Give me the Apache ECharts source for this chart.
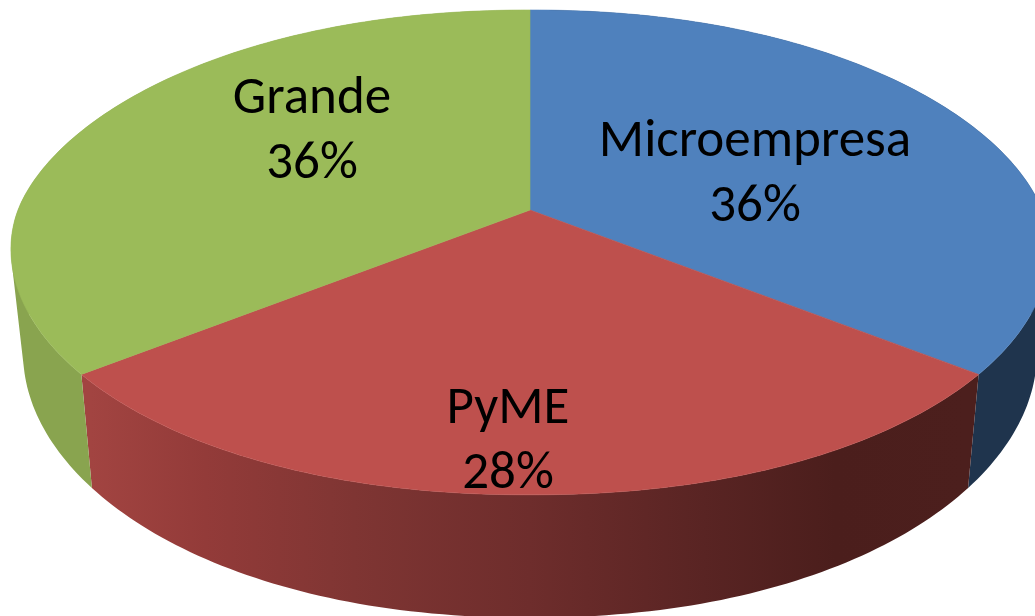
<!DOCTYPE html>
<html>
<head>
<meta charset="utf-8">
<style>html,body{margin:0;padding:0;background:#fff}#c{width:1035px;height:616px}</style>
<script src="https://cdn.jsdelivr.net/npm/echarts@6/dist/echarts.min.js"></script>
</head>
<body>
<div id="c"></div>
<script>
// Data
const categories = ['Microempresa', 'PyME', 'Grande'];
const shares = [36, 28, 36];

// Styles
const topColors = ['#4F81BD', '#BE504D', '#9BBB59'];
const sideFills = [
  '#1F344D',
  { type: 'linear', x: 91, y: 0, x2: 967, y2: 0, global: true, colorStops: [
    { offset: 0, color: '#A24441' },
    { offset: 0.13, color: '#933B39' },
    { offset: 0.3, color: '#7F3533' },
    { offset: 0.5, color: '#6E2D2C' },
    { offset: 0.7, color: '#592423' },
    { offset: 0.85, color: '#4B1E1C' },
    { offset: 1, color: '#4C1F1D' }
  ] },
  '#89A44F'
];
const labelAnchors = [[755, 175], [508, 442], [312, 132]];
const labelFont = { size: 53, lineHeight: 65, family: 'Carlito, Lato, sans-serif' };

// Perspective projection of the disc (faces share a horizontal centre)
const centreX = 530;
const topFace = { r: 512, b: 235, y: 210, k: 0.175 };
const bottomFace = { r: 500, b: 253, y: 311, k: 0.175 };
const bulgeU = 0.95, bulgeV = 1.05;

function project(face, deg) {
  const a = deg * Math.PI / 180;
  const su = Math.sin(a), sv = -Math.cos(a);
  const u = Math.sign(su) * Math.pow(Math.abs(su), bulgeU);
  const v = Math.sign(sv) * Math.pow(Math.abs(sv), bulgeV);
  const w = 1 - face.k * v;
  return [centreX + face.r * u / w, face.y + face.b * v / w];
}
function arc(face, from, to) {
  const n = Math.max(2, Math.ceil(to - from));
  const pts = [];
  for (let i = 0; i <= n; i++) pts.push(project(face, from + (to - from) * i / n));
  return pts;
}
// One sub-path per wall facet, all wound the same way, so a single fill has no seams.
function wallPath(topArc, bottomArc) {
  let d = '';
  for (let s = 0; s < topArc.length - 1; s++) {
    let q = [topArc[s], topArc[s + 1], bottomArc[s + 1], bottomArc[s]];
    let area = 0;
    for (let k = 0; k < 4; k++) {
      const p = q[k], n = q[(k + 1) % 4];
      area += p[0] * n[1] - n[0] * p[1];
    }
    if (area < 0) q = q.reverse();
    d += 'M' + q.map(p => p[0].toFixed(2) + ' ' + p[1].toFixed(2)).join('L') + 'Z';
  }
  return d;
}

const total = shares.reduce((s, x) => s + x, 0);

function renderItem(params, api) {
  const i = params.dataIndex;
  let before = 0;
  for (let j = 0; j < i; j++) before += shares[j];
  const from = before / total * 360;
  const to = (before + api.value(1)) / total * 360;
  const topArc = arc(topFace, from, to);
  const bottomArc = arc(bottomFace, from, to);
  const apex = [centreX, topFace.y];
  return {
    type: 'group',
    children: [
      {
        type: 'path',
        z2: 1,
        shape: { pathData: wallPath(topArc, bottomArc) },
        style: { fill: sideFills[i] }
      },
      {
        type: 'polygon',
        z2: 2,
        shape: { points: [apex].concat(topArc) },
        style: { fill: topColors[i], stroke: topColors[i], lineWidth: 0.6 }
      },
      {
        type: 'text',
        z2: 3,
        x: labelAnchors[i][0],
        y: labelAnchors[i][1],
        style: {
          text: categories[i] + '\n' + api.value(1) + '%',
          fill: '#000',
          fontSize: labelFont.size,
          lineHeight: labelFont.lineHeight,
          fontFamily: labelFont.family,
          align: 'center',
          verticalAlign: 'middle'
        }
      }
    ]
  };
}

const chart = echarts.init(document.getElementById('c'), null, { renderer: 'canvas' });
chart.setOption({
  animation: false,
  backgroundColor: '#ffffff',
  series: [{
    type: 'custom',
    coordinateSystem: 'none',
    silent: true,
    renderItem: renderItem,
    data: categories.map((c, i) => [c, shares[i]])
  }]
});
</script>
</body>
</html>
